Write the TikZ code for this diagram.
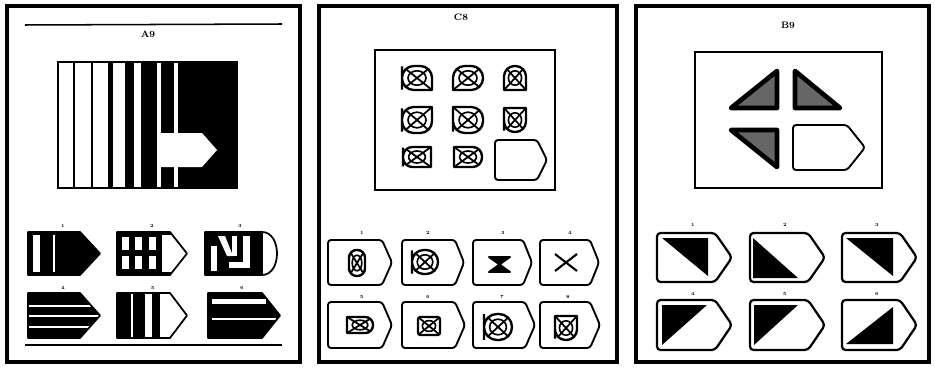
\documentclass[tikz,border=0pt]{standalone}
\usepackage{tikz}
\usetikzlibrary{positioning}

% answer tag: style, x1, y1, x of tip start, x of tip, y2
\newcommand{\tagshape}[6]{\path[#1] (#2,#3) -- (#4,#3) -- (#5,{(#3+#6)/2}) -- (#4,#6) -- (#2,#6) -- cycle;}
% crossed cell: cx, cy, half width, half height, corners TL, TR, BR, BL
\newcommand{\xcell}[8]{%
  \begin{scope}
    \path[clip] (#1-#3,#2) [rounded corners=#5] -- (#1-#3,#2-#4) [rounded corners=#6] -- (#1+#3,#2-#4)
      [rounded corners=#7] -- (#1+#3,#2+#4) [rounded corners=#8] -- (#1-#3,#2+#4) -- cycle;
    \draw[line width=1.5pt] (#1-#3,#2-#4) -- (#1+#3,#2+#4) (#1-#3,#2+#4) -- (#1+#3,#2-#4);
    \draw[line width=1.4pt] (#1,#2) ellipse ({0.6*#3} and {0.6*#4});
    \fill (#1,#2) circle (1.2pt);
  \end{scope}
  \draw[cell] (#1-#3,#2) [rounded corners=#5] -- (#1-#3,#2-#4) [rounded corners=#6] -- (#1+#3,#2-#4)
      [rounded corners=#7] -- (#1+#3,#2+#4) [rounded corners=#8] -- (#1-#3,#2+#4) -- cycle;
}

\begin{document}
\begin{tikzpicture}[
    x=0.03cm, y=-0.03cm,
    panel/.style={draw, line width=3.2pt},
    rule/.style={line width=1.3pt},
    board/.style={draw, line width=1.7pt},
    tag/.style={draw, line width=1.5pt, line join=round},
    tagr/.style={draw, line width=1.6pt, rounded corners=2.5pt},
    title/.style={font=\bfseries\footnotesize, inner sep=0pt},
    num/.style={font=\fontsize{4}{4}\selectfont\bfseries, inner sep=0pt},
    cell/.style={draw, line width=2pt},
    wedge/.style={draw, line width=4pt, line join=round, fill=black!60}
]
\useasboundingbox (0,0) rectangle (935,369);

% ---- panel A
\draw[panel] (7,6) rectangle (300,362);
\draw[rule] (25,25) -- (282,24);
\draw[rule] (25,345) -- (282,345);
\node[title] (lblA) at (148,34) {A9};

\draw[board] (58,62) rectangle (237,188);
\foreach \a/\b in {73/75, 91/93, 108/113, 125/134, 141/157, 161/174, 178/237}
  \fill (\a,62) rectangle (\b,188);
\tagshape{fill=white}{157}{133}{202}{217}{167}

% options A
\begin{scope}
  \tagshape{clip}{28}{232}{80}{100}{275}
  \fill (28,232) rectangle (100,275);
  \fill[white] (33,235) rectangle (40,272);
  \fill[white] (53,235) rectangle (55,272);
\end{scope}
\tagshape{tag}{28}{232}{80}{100}{275}

\begin{scope}
  \tagshape{clip}{117}{232}{170}{187}{275}
  \fill (117,232) rectangle (187,275);
  \foreach \a in {122,135,149}
    \foreach \c in {237,256}
      \fill[white] (\a,\c) rectangle (\a+7,\c+13);
  \fill[white] (162,235) rectangle (190,272);
\end{scope}
\tagshape{tag}{117}{232}{170}{187}{275}

\fill (205,232) rectangle (262,275);
\fill[white] (211,246) rectangle (217,271);
\fill[white] (218,236) -- (225,236) -- (233,256) -- (227,256) -- cycle;
\fill[white] (232,236) rectangle (237,256);
\fill[white] (243,236) rectangle (250,268);
\fill[white] (229,262) rectangle (250,268);
\draw[tag] (205,232) -- (262,232) .. controls (282,232) and (282,275) .. (262,275) -- (205,275) -- cycle;
\draw[line width=1.5pt] (262,232) -- (262,275);

\begin{scope}
  \tagshape{clip}{28}{293}{80}{100}{338}
  \fill (28,293) rectangle (100,338);
  \foreach \c in {305,315,326}
    \fill[white] (28,\c) rectangle (100,\c+1.8);
\end{scope}
\tagshape{tag}{28}{293}{80}{100}{338}

\begin{scope}
  \tagshape{clip}{117}{293}{170}{187}{338}
  \foreach \a/\b in {117/131, 133/145, 152/160}
    \fill (\a,293) rectangle (\b,338);
\end{scope}
\tagshape{tag}{117}{293}{170}{187}{338}

\begin{scope}
  \tagshape{clip}{208}{293}{262}{280}{338}
  \fill (208,293) rectangle (280,338);
  \fill[white] (212,299) rectangle (266,304);
  \fill[white] (212,318) rectangle (276,320);
\end{scope}
\tagshape{tag}{208}{293}{262}{280}{338}

\node[num] (a1) at (63,226) {1};
\node[num] (a2) at (152,226) {2};
\node[num] (a3) at (240,226) {3};
\node[num] (a4) at (63,288) {4};
\node[num] (a5) at (153,288) {5};
\node[num] (a6) at (242,288) {6};

% ---- panel B
\draw[panel] (319,6) rectangle (617,362);
\node[title] (lblB) at (461,17) {C8};
\draw[board] (375,50) rectangle (555,190);

\xcell{417}{78}{15}{12}{10pt}{10pt}{0.5pt}{10pt}
\xcell{468}{78}{15}{12}{10pt}{10pt}{10pt}{0.5pt}
\xcell{515}{78}{11}{12}{9pt}{9pt}{0.5pt}{0.5pt}
\xcell{417}{120}{15}{13}{10pt}{0.5pt}{10pt}{10pt}
\xcell{468}{120}{15}{13}{0.5pt}{10pt}{10pt}{10pt}
\xcell{515}{120}{11}{12}{0.5pt}{0.5pt}{9pt}{9pt}
\xcell{417}{157}{14}{10}{8pt}{0.5pt}{0.5pt}{8pt}
\xcell{468}{157}{14}{10}{0.5pt}{8pt}{8pt}{0.5pt}
\tagshape{tagr}{495}{140}{537}{547}{180}

% options B
\tagshape{tagr}{328}{240}{382}{392}{285}
\tagshape{tagr}{402}{240}{455}{464}{285}
\tagshape{tagr}{473}{240}{523}{532}{285}
\tagshape{tagr}{540}{240}{590}{599}{285}
\tagshape{tagr}{328}{302}{382}{392}{348}
\tagshape{tagr}{402}{302}{455}{465}{348}
\tagshape{tagr}{473}{302}{525}{535}{348}
\tagshape{tagr}{540}{302}{590}{600}{348}

\xcell{357}{263}{8}{13}{6.5pt}{6.5pt}{6.5pt}{6.5pt}
\xcell{425}{262}{13}{12}{10pt}{10pt}{10pt}{10pt}
\draw[line width=1.6pt, line join=round, fill=black] (489,257) -- (510,257) -- (489,272) -- (510,272) -- cycle;
\draw[line width=1.8pt] (555,254) -- (577,271) (555,271) -- (577,254);
\xcell{360}{325}{13}{8}{0.5pt}{6.5pt}{6.5pt}{0.5pt}
\xcell{429}{326}{11}{9}{2pt}{2pt}{2pt}{2pt}
\xcell{498}{327}{14}{13}{11pt}{11pt}{11pt}{11pt}
\xcell{566}{328}{11}{12}{0.5pt}{0.5pt}{9pt}{9pt}

\node[num] (b1) at (362,233) {1};
\node[num] (b2) at (428,233) {2};
\node[num] (b3) at (503,233) {3};
\node[num] (b4) at (570,233) {4};
\node[num] (b5) at (362,297) {5};
\node[num] (b6) at (428,297) {6};
\node[num] (b7) at (502,297) {7};
\node[num] (b8) at (568,297) {8};

% ---- panel C
\draw[panel] (636,6) rectangle (929,362);
\node[title] (lblC) at (788,25) {B9};
\draw[board] (695,52) rectangle (882,188);

\draw[wedge] (731,108) -- (777,71) -- (777,108) -- cycle;
\draw[wedge] (795,71) -- (795,108) -- (840,108) -- cycle;
\draw[wedge] (731,130) -- (777,130) -- (777,167) -- cycle;
\tagshape{tagr}{793}{125}{847}{865}{170}

% options C
\tagshape{tagr, line width=1.9pt, rounded corners=3pt}{657}{233}{715}{732}{282}
\tagshape{tagr, line width=1.9pt, rounded corners=3pt}{750}{233}{808}{825}{282}
\tagshape{tagr, line width=1.9pt, rounded corners=3pt}{842}{233}{900}{917}{282}
\tagshape{tagr, line width=1.9pt, rounded corners=3pt}{657}{300}{715}{732}{350}
\tagshape{tagr, line width=1.9pt, rounded corners=3pt}{750}{300}{808}{825}{350}
\tagshape{tagr, line width=1.9pt, rounded corners=3pt}{842}{300}{900}{917}{350}

\fill (662,238) -- (708,238) -- (708,276) -- cycle;
\fill (753,238) -- (753,278) -- (798,278) -- cycle;
\fill (846,238) -- (893,238) -- (893,276) -- cycle;
\fill (662,305) -- (707,305) -- (662,345) -- cycle;
\fill (754,305) -- (798,305) -- (754,345) -- cycle;
\fill (846,344) -- (893,344) -- (893,307) -- cycle;

\node[num] (c1) at (693,225) {1};
\node[num] (c2) at (785,225) {2};
\node[num] (c3) at (877,225) {3};
\node[num] (c4) at (693,294) {4};
\node[num] (c5) at (785,294) {5};
\node[num] (c6) at (877,294) {6};

\end{tikzpicture}
\end{document}
